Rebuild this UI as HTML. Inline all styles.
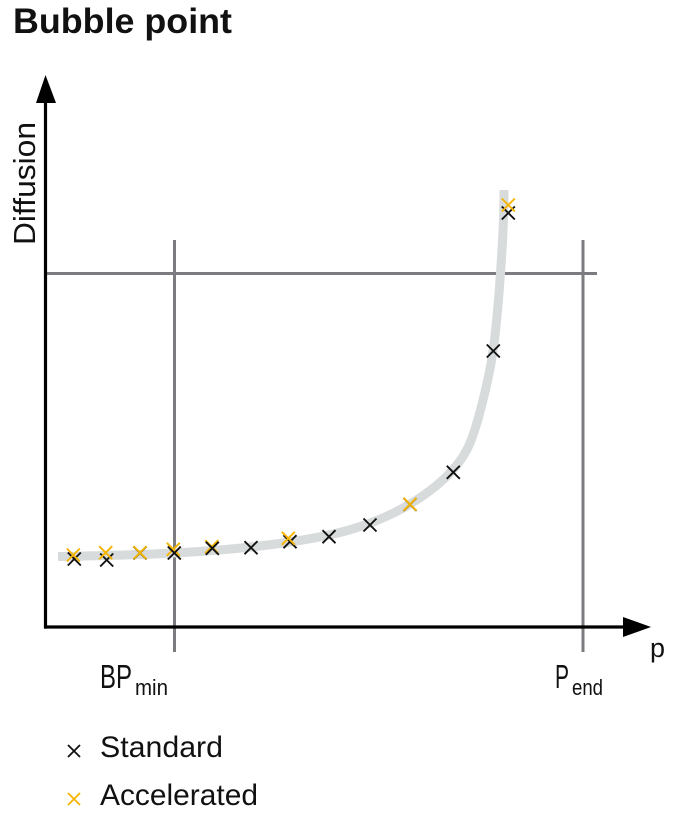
<!DOCTYPE html>
<html>
<head>
<meta charset="utf-8">
<style>
  html, body { margin:0; padding:0; background:#fff; }
  svg { display:block; }
  text { font-family: "Liberation Sans", "DejaVu Sans", sans-serif; fill:#111; }
</style>
</head>
<body>
<svg width="680" height="817" viewBox="0 0 680 817" xmlns="http://www.w3.org/2000/svg">
  <!-- Title -->
  <text x="13" y="33" font-size="35" font-weight="bold" textLength="219" lengthAdjust="spacingAndGlyphs">Bubble point</text>

  <!-- Y axis label -->
  <text transform="translate(35,245) rotate(-90)" x="0" y="0" font-size="31" textLength="123" lengthAdjust="spacingAndGlyphs">Diffusion</text>

  <!-- reference lines (gray) -->
  <g stroke="#7c7c80" stroke-width="3" fill="none">
    <line x1="46" y1="273.5" x2="597" y2="273.5"/>
    <line x1="174.5" y1="240" x2="174.5" y2="652"/>
    <line x1="583" y1="240" x2="583" y2="652"/>
  </g>

  <!-- curve -->
  <path d="M58,556.5 C135,555 213,553.6 290,542 C330,536 370,528 410,504 C430,492 458,471.8 470,443 C478,423.8 489,378.6 493,351 C497.5,320 504,240 504,190"
        fill="none" stroke="#d8dbdb" stroke-width="9" stroke-linecap="butt"/>

  <!-- axes -->
  <g stroke="#000" stroke-width="3.2" fill="none">
    <line x1="45.5" y1="95" x2="45.5" y2="628.6"/>
    <line x1="44" y1="627" x2="630" y2="627"/>
  </g>
  <polygon points="45.5,75 36,103 56,103" fill="#000"/>
  <polygon points="651,627 623,617 623,637" fill="#000"/>

  <!-- axis labels -->
  <text x="650" y="657" font-size="27" textLength="15" lengthAdjust="spacingAndGlyphs">p</text>
  <text x="100" y="688" font-size="33" textLength="32" lengthAdjust="spacingAndGlyphs">BP</text>
  <text x="135" y="695" font-size="22" textLength="33" lengthAdjust="spacingAndGlyphs">min</text>
  <text x="555" y="688" font-size="33" textLength="14" lengthAdjust="spacingAndGlyphs">P</text>
  <text x="572" y="695" font-size="22" textLength="31" lengthAdjust="spacingAndGlyphs">end</text>

  <!-- markers -->
  <defs>
    <path id="mx" d="M-6.5,-6.5 L6.5,6.5 M-6.5,6.5 L6.5,-6.5"/>
  </defs>
  <g stroke="#111" stroke-width="1.9" fill="none">
    <use href="#mx" x="74.3" y="559"/>
    <use href="#mx" x="106.7" y="560"/>
    <use href="#mx" x="140" y="553"/>
    <use href="#mx" x="251" y="547.7"/>
    <use href="#mx" x="290" y="541.7"/>
    <use href="#mx" x="329" y="536.7"/>
    <use href="#mx" x="370" y="525"/>
    <use href="#mx" x="410" y="504.5"/>
    <use href="#mx" x="453.3" y="472.3"/>
    <use href="#mx" x="493.3" y="351"/>
    <use href="#mx" x="508.3" y="213"/>
  </g>
  <g stroke="#f5b400" stroke-width="1.9" fill="none">
    <use href="#mx" x="73.3" y="555"/>
    <use href="#mx" x="105.7" y="552.7"/>
    <use href="#mx" x="140" y="552.7"/>
    <use href="#mx" x="173.3" y="549.3"/>
    <use href="#mx" x="211.7" y="546.7"/>
    <use href="#mx" x="288.3" y="538.3"/>
    <use href="#mx" x="410" y="504.3"/>
    <use href="#mx" x="508.3" y="205"/>
  </g>
  <g stroke="#111" stroke-width="1.9" fill="none">
    <use href="#mx" x="174.3" y="553"/>
    <use href="#mx" x="212.3" y="548.3"/>
  </g>

  <!-- legend -->
  <g stroke="#111" stroke-width="1.8" fill="none">
    <path d="M68,745 L80,757 M68,757 L80,745"/>
  </g>
  <g stroke="#f5b400" stroke-width="1.8" fill="none">
    <path d="M68,793 L80,805 M68,805 L80,793"/>
  </g>
  <text x="100" y="757" font-size="30" textLength="123" lengthAdjust="spacingAndGlyphs">Standard</text>
  <text x="100" y="805" font-size="30" textLength="158" lengthAdjust="spacingAndGlyphs">Accelerated</text>
</svg>
</body>
</html>
